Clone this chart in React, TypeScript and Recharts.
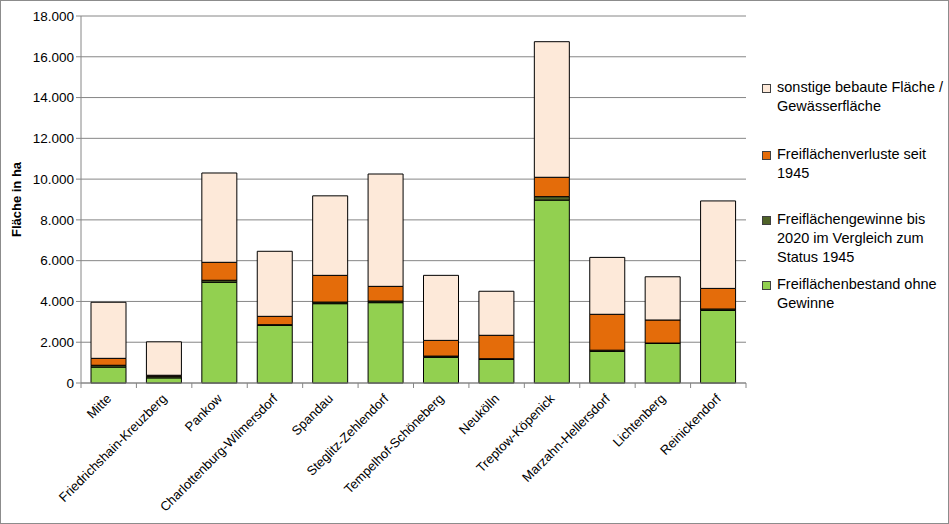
import React from "react";
import { BarChart, Bar, XAxis, YAxis, CartesianGrid } from "recharts";

// Berliner Bezirke
const districts = [
  "Mitte",
  "Friedrichshain-Kreuzberg",
  "Pankow",
  "Charlottenburg-Wilmersdorf",
  "Spandau",
  "Steglitz-Zehlendorf",
  "Tempelhof-Schöneberg",
  "Neukölln",
  "Treptow-Köpenick",
  "Marzahn-Hellersdorf",
  "Lichtenberg",
  "Reinickendorf",
];

// Flächen in ha
const bestand = [780, 250, 4940, 2830, 3890, 3940, 1260, 1160, 8970, 1550, 1940, 3560];
const gewinne = [90, 80, 100, 30, 80, 80, 60, 30, 170, 60, 20, 70];
const verluste = [340, 50, 880, 410, 1310, 720, 770, 1150, 950, 1760, 1130, 1010];
const sonstige = [2750, 1640, 4380, 3190, 3900, 5510, 3190, 2160, 6650, 2790, 2120, 4290];

const yTicks = [0, 2000, 4000, 6000, 8000, 10000, 12000, 14000, 16000, 18000];

const series = [
  { key: "bestand", name: "Freiflächenbestand ohne Gewinne", color: "#92D050" },
  { key: "gewinne", name: "Freiflächengewinne bis 2020 im Vergleich zum Status 1945", color: "#4F6228" },
  { key: "verluste", name: "Freiflächenverluste seit 1945", color: "#E46C0A" },
  { key: "sonstige", name: "sonstige bebaute Fläche / Gewässerfläche", color: "#FDE9D9" },
];

// legend entries, top to bottom, with their line breaks
const legendRows = [
  { color: "#FDE9D9", lines: ["sonstige bebaute Fläche /", "Gewässerfläche"], gap: 0 },
  { color: "#E46C0A", lines: ["Freiflächenverluste seit", "1945"], gap: 29 },
  { color: "#4F6228", lines: ["Freiflächengewinne bis", "2020 im Vergleich zum", "Status 1945"], gap: 27 },
  { color: "#92D050", lines: ["Freiflächenbestand ohne", "Gewinne"], gap: 8 },
];

const data = districts.map((name, i) => ({
  name,
  bestand: bestand[i],
  gewinne: gewinne[i],
  verluste: verluste[i],
  sonstige: sonstige[i],
}));

const FONT = "'Liberation Sans', Arial, sans-serif";
const AXIS = "#868686";
const PLOT_LEFT = 81;
const PLOT_RIGHT = 746;
const BAND = (PLOT_RIGHT - PLOT_LEFT) / districts.length;

const fmt = (v: number) => String(v).replace(/\B(?=(\d{3})+(?!\d))/g, ".");

const CategoryTick = (props: any) => {
  const { x, y, payload, index } = props;
  const left = x - BAND / 2;
  return (
    <g>
      <line x1={left} y1={y - 8} x2={left} y2={y - 3} stroke={AXIS} />
      {index === districts.length - 1 && (
        <line x1={left + BAND} y1={y - 8} x2={left + BAND} y2={y - 3} stroke={AXIS} />
      )}
      <text
        x={x + 1}
        y={y + 6}
        transform={`rotate(-45 ${x + 1} ${y + 6})`}
        textAnchor="end"
        dominantBaseline="middle"
        fontSize={13}
        fontFamily={FONT}
        fill="#000"
      >
        {payload.value}
      </text>
    </g>
  );
};

const LegendBox = () => (
  <div
    style={{
      position: "absolute",
      left: 762,
      top: 78,
      width: 185,
      fontFamily: FONT,
      fontSize: 14.5,
      color: "#000",
      lineHeight: "19px",
    }}
  >
    {legendRows.map((row) => (
      <div key={row.lines[0]} style={{ display: "flex", marginTop: row.gap }}>
        <div
          style={{
            width: 7,
            height: 7,
            marginTop: 6,
            marginRight: 6,
            background: row.color,
            border: "1px solid #404040",
            flexShrink: 0,
          }}
        />
        <div>
          {row.lines.map((l) => (
            <div key={l}>{l}</div>
          ))}
        </div>
      </div>
    ))}
  </div>
);

export default function App() {
  return (
    <div style={{ position: "absolute", left: 0, top: 0, width: 949, height: 524, background: "#fff" }}>
      <BarChart
        width={949}
        height={524}
        data={data}
        barSize={35}
        margin={{ top: 16, right: 949 - PLOT_RIGHT, bottom: 11, left: 0 }}
      >
        <CartesianGrid vertical={false} stroke={AXIS} />
        <XAxis
          dataKey="name"
          interval={0}
          height={130}
          stroke={AXIS}
          tickLine={false}
          tick={<CategoryTick />}
        />
        <YAxis
          width={PLOT_LEFT}
          domain={[0, 18000]}
          ticks={yTicks}
          interval={0}
          tickFormatter={fmt}
          stroke={AXIS}
          tickSize={5}
          tick={{ fill: "#000", fontSize: 13.5, fontFamily: FONT }}
          label={{
            content: (p: any) => {
              const vb = p.viewBox || {};
              const cy = (vb.y ?? 16) + (vb.height ?? 367) / 2;
              return (
                <text
                  x={18}
                  y={cy}
                  transform={`rotate(-90 18 ${cy})`}
                  textAnchor="middle"
                  dominantBaseline="middle"
                  fontSize={13}
                  fontWeight="bold"
                  fontFamily={FONT}
                  fill="#000"
                >
                  Fläche in ha
                </text>
              );
            },
          }}
        />
        {series.map((s) => (
          <Bar
            key={s.key}
            dataKey={s.key}
            name={s.name}
            stackId="a"
            fill={s.color}
            stroke="#000"
            strokeWidth={1}
            isAnimationActive={false}
          />
        ))}
      </BarChart>
      <LegendBox />
      <div
        style={{
          position: "absolute",
          left: 0,
          top: 0,
          width: 949,
          height: 524,
          boxSizing: "border-box",
          border: "1px solid #8c8c8c",
          pointerEvents: "none",
        }}
      />
    </div>
  );
}
